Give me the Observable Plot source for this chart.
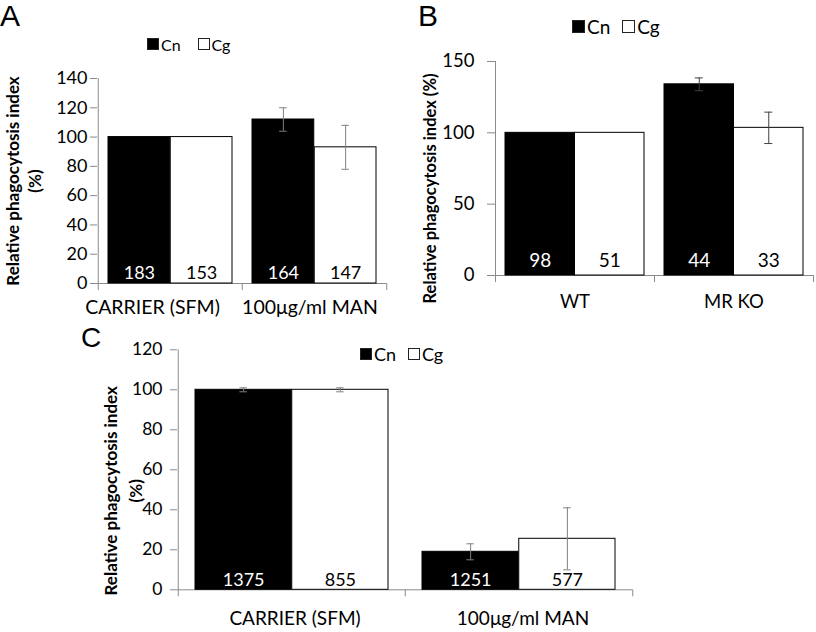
<!DOCTYPE html>
<html>
<head>
<meta charset="utf-8">
<script src="https://cdn.jsdelivr.net/npm/d3@7"></script>
<script src="https://cdn.jsdelivr.net/npm/@observablehq/plot@0.6"></script>
<style>
  body { margin: 0; background: #fff; }
  #fig { position: relative; width: 816px; height: 632px; overflow: hidden; font-family: Lato, "Open Sans", sans-serif; }
  .abs { position: absolute; }
  .letter { font-family: "Liberation Sans", Arial, sans-serif; line-height: 1; }
  .legend { display: flex; align-items: center; white-space: nowrap; }
  .sw { display: inline-block; box-sizing: border-box; border: 1px solid #222; }
</style>
</head>
<body>
<div id="fig"></div>
<script>
// shared
const series = ["Cn", "Cg"];
const fills = ["black", "white"];
const yTitle = "Relative phagocytosis index";

// panel A
const groupsA = ["CARRIER (SFM)", "100μg/ml MAN"];
const cnA = [100, 112];
const cgA = [100, 93];
const cnErrA = [0, 8];
const cgErrA = [0, 15];
const nCnA = [183, 164];
const nCgA = [153, 147];
const ticksA = [0, 20, 40, 60, 80, 100, 120, 140];

// panel B
const groupsB = ["WT", "MR KO"];
const cnB = [100, 134];
const cgB = [100, 103.5];
const cnErrB = [0, 4.5];
const cgErrB = [0, 11];
const nCnB = [98, 44];
const nCgB = [51, 33];
const ticksB = [0, 50, 100, 150];

// panel C
const groupsC = ["CARRIER (SFM)", "100μg/ml MAN"];
const cnC = [100, 19];
const cgC = [100, 25.5];
const cnErrC = [1, 4];
const cgErrC = [1, 15.5];
const nCnC = [1375, 1251];
const nCgC = [855, 577];
const ticksC = [0, 20, 40, 60, 80, 100, 120];

const fig = document.getElementById("fig");
const axisColor = "#8a8a8a";

function panel(o) {
  const rows = o.groups.flatMap((g, i) => [
    {group: g, series: "Cn", value: o.cn[i], err: o.cnErr[i], n: o.nCn[i]},
    {group: g, series: "Cg", value: o.cg[i], err: o.cgErr[i], n: o.nCg[i]}
  ]);
  const bw = (o.width - o.marginLeft - o.marginRight) / o.groups.length;
  const off = (bw / 2 - o.pad) / 2;

  const marks = [
    Plot.ruleY([0], {stroke: axisColor}),
    Plot.ruleX([o.groups[0]], {x: d => d, dx: -bw / 2, stroke: axisColor}),
    Plot.ruleX(o.groups, {x: d => d, y1: 0, y2: 0, dx: -bw / 2, insetBottom: -o.xTick, stroke: axisColor}),
    Plot.ruleX([o.groups[o.groups.length - 1]], {x: d => d, y1: 0, y2: 0, dx: bw / 2, insetBottom: -o.xTick, stroke: axisColor}),
    Plot.axisY({ticks: o.ticks, tickSize: o.tickSize, tickPadding: o.tickPad, fontSize: o.tickFont, stroke: axisColor, fill: "black", label: null}),
    Plot.text([o.yTitle], {frameAnchor: "left", textAnchor: "middle", text: d => d, rotate: -90, dx: o.titleX - o.marginLeft, dy: o.titleDy,
      fontWeight: "bold", fontSize: o.titleFont, lineHeight: o.titleLH, lineAnchor: "middle", fill: "black"})
  ];

  // category labels, each nudged a little as in the source figure
  o.groups.forEach((g, i) => {
    marks.push(Plot.text([g], {x: d => d, frameAnchor: "bottom", lineAnchor: "middle", dx: o.labelDx[i], dy: o.labelDy,
      text: d => d, fontSize: o.labelFont, fill: "black"}));
  });

  series.forEach((s, k) => {
    const data = rows.filter(d => d.series === s);
    marks.push(Plot.barY(data, {
      x: "group", y: "value", fill: fills[k], stroke: "black", strokeWidth: 1,
      insetLeft: k === 0 ? o.pad : bw / 2, insetRight: k === 0 ? bw / 2 : o.pad
    }));
  });

  series.forEach((s, k) => {
    const data = rows.filter(d => d.series === s && d.err > 0);
    const dx = k === 0 ? -off : off;
    marks.push(
      Plot.ruleX(data, {x: "group", y1: d => d.value - d.err, y2: d => d.value + d.err, dx, stroke: o.errColor}),
      Plot.tickY(data, {x: "group", y: d => d.value + d.err, dx, insetLeft: bw / 2 - 4, insetRight: bw / 2 - 4, stroke: o.errColor}),
      Plot.tickY(data, {x: "group", y: d => d.value - d.err, dx, insetLeft: bw / 2 - 4, insetRight: bw / 2 - 4, stroke: o.errColor})
    );
  });

  series.forEach((s, k) => {
    const data = rows.filter(d => d.series === s);
    marks.push(Plot.text(data, {
      x: "group", frameAnchor: "bottom", lineAnchor: "middle", text: d => String(d.n), dx: k === 0 ? -off : off, dy: -o.countDy,
      fontSize: o.countFont, fill: k === 0 ? "white" : "black"
    }));
  });

  const svg = Plot.plot({
    width: o.width,
    height: o.height,
    marginTop: o.marginTop,
    marginRight: o.marginRight,
    marginBottom: o.marginBottom,
    marginLeft: o.marginLeft,
    style: {fontFamily: "Lato, 'Open Sans', sans-serif", background: "transparent", overflow: "visible"},
    x: {type: "band", domain: o.groups, padding: 0, axis: null},
    y: {domain: [0, o.ticks[o.ticks.length - 1]], axis: null},
    marks
  });
  svg.classList.add("abs");
  svg.style.left = o.left + "px";
  svg.style.top = o.top + "px";
  fig.appendChild(svg);
}

function letter(t, left, top, size) {
  const d = document.createElement("div");
  d.className = "abs letter";
  d.textContent = t;
  d.style.left = left + "px";
  d.style.top = top + "px";
  d.style.fontSize = size + "px";
  fig.appendChild(d);
}

function legend(left, cy, sq, fs, gap) {
  const d = document.createElement("div");
  d.className = "abs legend";
  d.style.left = left + "px";
  d.style.top = (cy - 15) + "px";
  d.style.height = "30px";
  d.style.fontSize = fs + "px";
  series.forEach((s, k) => {
    const sw = document.createElement("span");
    sw.className = "sw";
    sw.style.width = sq + "px";
    sw.style.height = sq + "px";
    sw.style.background = fills[k];
    sw.style.marginRight = "2px";
    if (k > 0) sw.style.marginLeft = gap + "px";
    const tx = document.createElement("span");
    tx.textContent = s;
    d.appendChild(sw);
    d.appendChild(tx);
  });
  fig.appendChild(d);
}

panel({
  groups: groupsA, cn: cnA, cg: cgA, cnErr: cnErrA, cgErr: cgErrA, nCn: nCnA, nCg: nCgA, ticks: ticksA,
  left: 0, top: 0, width: 400, height: 320,
  marginTop: 78, marginRight: 14, marginBottom: 37, marginLeft: 97,
  pad: 10, tickSize: 7, tickPad: 3, tickFont: 18, xTick: 7,
  yTitle: yTitle + "\n(%)", titleX: 22, titleDy: 0, titleFont: 17, titleLH: 1.3,
  labelDx: [-18, -4.5], labelDy: 24.5, labelFont: 19.5, countDy: 10.5, countFont: 18, errColor: "#808080"
});

panel({
  groups: groupsB, cn: cnB, cg: cgB, cnErr: cnErrB, cgErr: cgErrB, nCn: nCnB, nCg: nCgB, ticks: ticksB,
  left: 400, top: 0, width: 416, height: 320,
  marginTop: 61, marginRight: 3, marginBottom: 45, marginLeft: 95,
  pad: 10, tickSize: 8, tickPad: 13, tickFont: 18.5, xTick: 7,
  yTitle: yTitle + " (%)", titleX: 28, titleDy: 20, titleFont: 16.5, titleLH: 1.4,
  labelDx: [0, 0], labelDy: 26.7, labelFont: 18.5, countDy: 15, countFont: 19, errColor: "#404040"
});

panel({
  groups: groupsC, cn: cnC, cg: cgC, cnErr: cnErrC, cgErr: cgErrC, nCn: nCnC, nCg: nCgC, ticks: ticksC,
  left: 0, top: 320, width: 816, height: 312,
  marginTop: 29.3, marginRight: 184, marginBottom: 42.7, marginLeft: 177,
  pad: 17, tickSize: 7, tickPad: 8, tickFont: 17.5, xTick: 7,
  yTitle: yTitle + "\n(%)", titleX: 121, titleDy: 21, titleFont: 17, titleLH: 1.45,
  labelDx: [3, 4], labelDy: 29.5, labelFont: 19, countDy: 9.5, countFont: 18, errColor: "#808080"
});

letter("A", 0, 1, 30);
letter("B", 418, 1, 30);
letter("C", 81, 324, 28);

legend(147, 44, 12, 16, 17);
legend(572, 26, 13, 19, 12);
legend(360, 354, 12, 18, 12);
</script>
</body>
</html>
